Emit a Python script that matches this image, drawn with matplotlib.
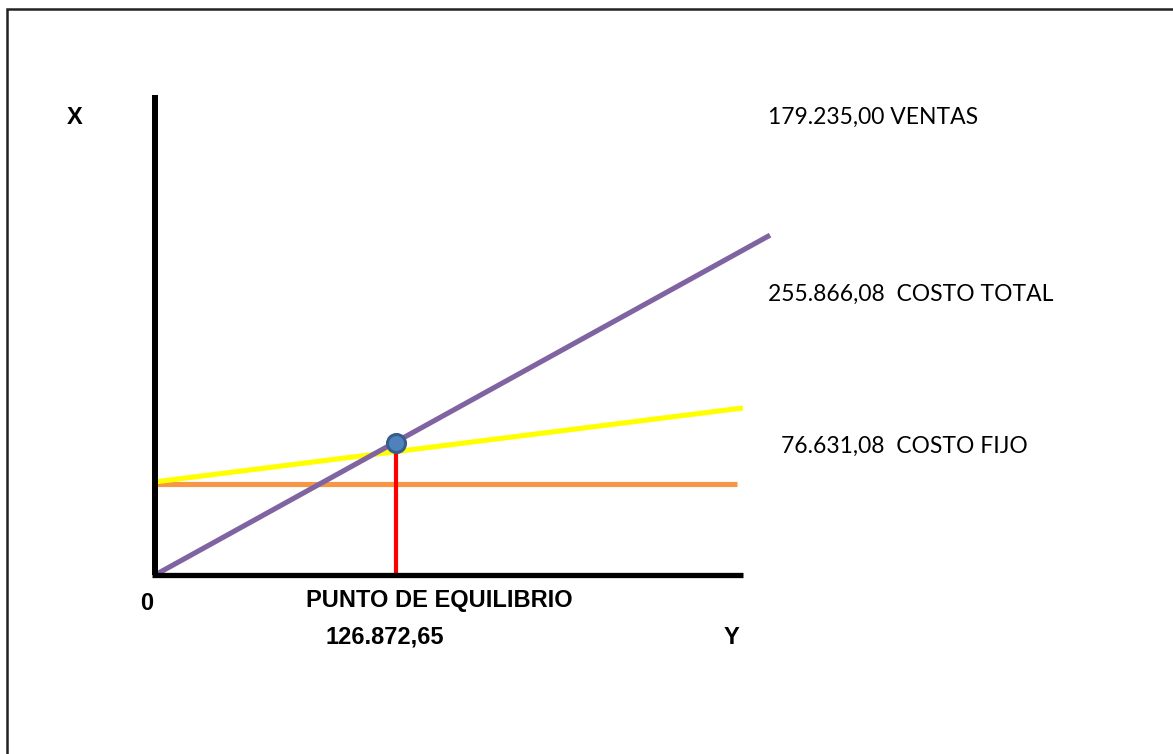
import matplotlib
matplotlib.use("Agg")
import matplotlib.pyplot as plt
from matplotlib.patches import Rectangle

# Diagram values (chart units: 0-100 on both axes)
ventas_x = [0, 104.6]
ventas_y = [0, 70.8]
costo_total_x = [0, 100]
costo_total_y = [19.4, 34.8]
costo_fijo_x = [0, 99]
costo_fijo_y = [19.0, 19.0]
equilibrio_x = 41.0
equilibrio_y = 27.5

labels_right = ["179.235,00 VENTAS", "255.866,08  COSTO TOTAL", "76.631,08  COSTO FIJO"]
label_equilibrio = "PUNTO DE EQUILIBRIO"
valor_equilibrio = "126.872,65"

W, H = 1173, 754


def px(x, y):
    """pixel position -> figure fraction"""
    return x / W, 1 - y / H


fig = plt.figure(figsize=(W / 100, H / 100), dpi=100)

# outer frame (only top/left visible in the original)
fig.patches.append(Rectangle(px(7, 760), 1.2, 751 / H, transform=fig.transFigure,
                             fill=False, edgecolor="#222222", linewidth=1.8))

ax = fig.add_axes([155 / W, (H - 575) / H, 588 / W, 480 / H])
ax.set_xlim(0, 100)
ax.set_ylim(0, 100)
ax.axis("off")

lw = 3.7
ax.plot(costo_fijo_x, costo_fijo_y, color="#F79646", lw=lw, solid_capstyle="butt",
        clip_on=False, zorder=2)
ax.plot(costo_total_x, costo_total_y, color="#FFFF00", lw=lw, solid_capstyle="butt",
        clip_on=False, zorder=3)
ax.plot(ventas_x, ventas_y, color="#8064A2", lw=lw, solid_capstyle="butt",
        clip_on=False, zorder=4)
ax.plot([equilibrio_x, equilibrio_x], [0, equilibrio_y], color="#FF0000", lw=3,
        solid_capstyle="butt", clip_on=False, zorder=3)
ax.plot([equilibrio_x], [equilibrio_y], marker="o", markersize=13,
        markerfacecolor="#4F81BD", markeredgecolor="#385D8A", markeredgewidth=2.2,
        clip_on=False, zorder=6)

# axes
ax.plot([0, 0], [0, 100], color="black", lw=4.3, solid_capstyle="butt",
        clip_on=False, zorder=5)
ax.plot([-0.5, 100], [0, 0], color="black", lw=3.8, solid_capstyle="butt",
        clip_on=False, zorder=5)

bold = dict(family="Liberation Sans", fontweight="bold", fontsize=17, color="black")
fig.text(*px(75, 117), "X", ha="center", va="center", **bold)
fig.text(*px(147, 604), "0", ha="center", va="center", **bold)
fig.text(*px(439, 600), label_equilibrio, ha="center", va="center", **bold)
fig.text(*px(385, 637), valor_equilibrio, ha="center", va="center", **bold)
fig.text(*px(731, 637), "Y", ha="center", va="center", **bold)

reg = dict(family="Lato", fontsize=16.5, color="black", ha="left", va="center")
fig.text(*px(768, 117), labels_right[0], **reg)
fig.text(*px(768, 294), labels_right[1], **reg)
fig.text(*px(781, 446), labels_right[2], **reg)

fig.savefig("out.png", dpi=100)
